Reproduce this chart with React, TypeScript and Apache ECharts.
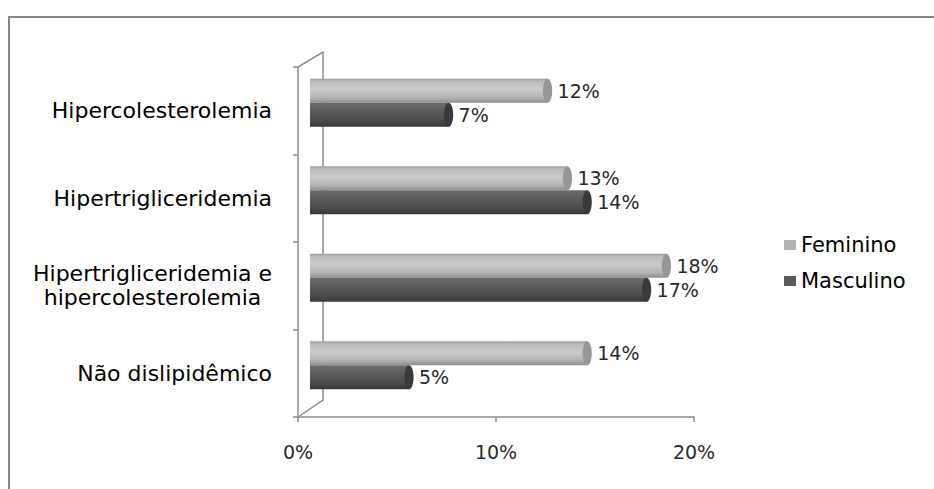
import React, { useEffect, useRef } from "react";
import * as echarts from "echarts";

const categories = [
  "Hipercolesterolemia",
  "Hipertrigliceridemia",
  "Hipertrigliceridemia e\nhipercolesterolemia",
  "Não dislipidêmico",
];
const feminino = [12, 13, 18, 14];
const masculino = [7, 14, 17, 5];
const xTicks = [0, 10, 20];

const FONT = "DejaVu Sans";

export default function App() {
  const ref = useRef<HTMLDivElement>(null);
  useEffect(() => {
    if (!ref.current) return;
    const chart = echarts.init(ref.current, null, { renderer: "svg" });
    const lightGrad = new echarts.graphic.LinearGradient(0, 0, 0, 1, [
      { offset: 0, color: "#9e9e9e" },
      { offset: 0.12, color: "#bcbcbc" },
      { offset: 0.45, color: "#cacaca" },
      { offset: 0.8, color: "#b2b2b2" },
      { offset: 1, color: "#8e8e8e" },
    ]);
    const darkGrad = new echarts.graphic.LinearGradient(0, 0, 0, 1, [
      { offset: 0, color: "#6c6c6c" },
      { offset: 0.3, color: "#5e5e5e" },
      { offset: 0.7, color: "#4e4e4e" },
      { offset: 1, color: "#383838" },
    ]);
    const barCommon = {
      xAxisIndex: 1,
      yAxisIndex: 1,
      barWidth: 24,
      barGap: "0%",
    };
    const label = {
      show: true,
      position: "right",
      distance: 10,
      fontFamily: FONT,
      fontSize: 19,
      color: "#2a2a2a",
      formatter: (p: any) => `${p.value}%`,
    };
    chart.setOption({
      animation: false,
      backgroundColor: "#ffffff",
      grid: [
        { left: 298, width: 396, top: 67, height: 350 },
        { left: 310, width: 396, top: 59, height: 350 },
      ],
      xAxis: [
        {
          gridIndex: 0,
          type: "value",
          min: xTicks[0],
          max: xTicks[xTicks.length - 1],
          interval: xTicks[1] - xTicks[0],
          axisLine: { show: true, lineStyle: { color: "#8c8c8c", width: 1.5 } },
          axisTick: { show: true, length: 5, lineStyle: { color: "#8c8c8c", width: 1.5 } },
          splitLine: { show: false },
          axisLabel: {
            margin: 25,
            fontFamily: FONT,
            fontSize: 19,
            color: "#2a2a2a",
            formatter: (v: number) => `${v}%`,
          },
        },
        {
          gridIndex: 1,
          type: "value",
          min: xTicks[0],
          max: xTicks[xTicks.length - 1],
          show: false,
        },
      ],
      yAxis: [
        {
          gridIndex: 0,
          type: "category",
          inverse: true,
          data: categories,
          axisLine: { show: true, lineStyle: { color: "#8c8c8c", width: 1.5 } },
          axisTick: { show: true, length: 5, lineStyle: { color: "#8c8c8c", width: 1.5 } },
          axisLabel: {
            margin: 26,
            formatter: (v: string) =>
              v
                .split("\n")
                .map((l) => `{c|${l}}`)
                .join("\n"),
            rich: {
              c: {
                fontFamily: FONT,
                fontSize: 22,
                lineHeight: 24,
                color: "#000",
                align: "center",
              },
            },
          },
        },
        {
          gridIndex: 1,
          type: "category",
          inverse: true,
          data: categories,
          show: false,
        },
      ],
      legend: {
        orient: "vertical",
        left: 779,
        top: 229,
        itemWidth: 12,
        itemHeight: 10,
        itemGap: 14,
        icon: "rect",
        textStyle: { fontFamily: FONT, fontSize: 21, color: "#000", lineHeight: 22 },
        data: [
          { name: "Feminino", itemStyle: { color: "#b4b4b4" } },
          { name: "Masculino", itemStyle: { color: "#5a5a5a" } },
        ],
      },
      series: [
        {
          ...barCommon,
          name: "Feminino",
          type: "bar",
          data: feminino,
          itemStyle: { color: lightGrad },
          label,
        },
        {
          ...barCommon,
          name: "Masculino",
          type: "bar",
          data: masculino,
          itemStyle: { color: darkGrad },
          label,
        },
        {
          ...barCommon,
          name: "capF",
          type: "pictorialBar",
          data: feminino,
          symbol: "circle",
          symbolSize: [9, 24],
          symbolPosition: "end",
          symbolOffset: ["50%", 0],
          itemStyle: { color: "#979797" },
          z: 5,
        },
        {
          ...barCommon,
          name: "capM",
          type: "pictorialBar",
          data: masculino,
          symbol: "circle",
          symbolSize: [9, 24],
          symbolPosition: "end",
          symbolOffset: ["50%", 0],
          itemStyle: { color: "#3a3a3a" },
          z: 5,
        },
      ],
      graphic: [
        {
          type: "rect",
          shape: { x: 9, y: 17, width: 1200, height: 1000 },
          style: { fill: "none", stroke: "#878787", lineWidth: 2 },
          silent: true,
        },
        {
          type: "polyline",
          shape: {
            points: [
              [298, 67],
              [323, 52],
              [323, 400],
              [298, 417],
            ],
          },
          style: { fill: "none", stroke: "#8c8c8c", lineWidth: 1.5 },
          silent: true,
          z: -1,
        },
      ],
    });
    return () => chart.dispose();
  }, []);
  return (
    <div
      ref={ref}
      style={{ position: "absolute", left: 0, top: 0, width: 934, height: 489 }}
    />
  );
}
